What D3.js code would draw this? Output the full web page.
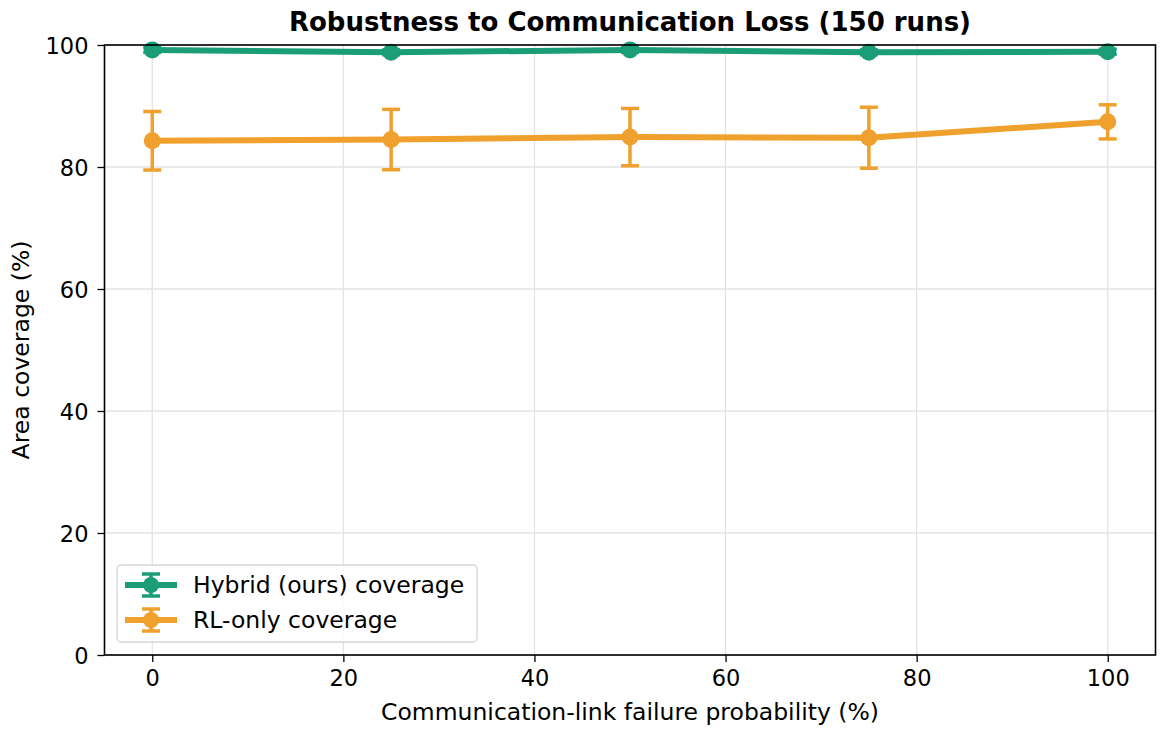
<!DOCTYPE html>
<html><head><meta charset="utf-8">
<script src="https://cdn.jsdelivr.net/npm/d3@7"></script>
<style>body{margin:0;background:#fff}svg{font-family:"DejaVu Sans",sans-serif}</style>
</head><body>
<svg id="c" width="1165" height="734"></svg>
<script>
const failureProb = [0, 25, 50, 75, 100];
const hybridMean = [99.2, 98.8, 99.2, 98.8, 98.9];
const hybridErr = [0.4, 0.4, 0.4, 0.4, 0.4];
const rlMean = [84.3, 84.5, 84.9, 84.8, 87.4];
const rlErr = [4.8, 4.95, 4.7, 5.0, 2.8];
const xTicks = [0, 20, 40, 60, 80, 100];
const yTicks = [0, 20, 40, 60, 80, 100];
const seriesNames = ["Hybrid (ours) coverage", "RL-only coverage"];
const colors = ["#1b9e77", "#f0a02c"];

const svg = d3.select("#c");
const m = {l:104.5, r:1155.5, t:45, b:655};
const x = d3.scaleLinear().domain([-5,105]).range([m.l, m.r]);
const y = d3.scaleLinear().domain([0,100]).range([m.b, m.t]);

// grid
const g = svg.append("g");
g.selectAll(".gx").data(xTicks).enter().append("line")
 .attr("x1",d=>x(d)).attr("x2",d=>x(d)).attr("y1",m.t).attr("y2",m.b)
 .attr("stroke","#e3e3e3").attr("stroke-width",1.3);
g.selectAll(".gy").data(yTicks).enter().append("line")
 .attr("y1",d=>y(d)).attr("y2",d=>y(d)).attr("x1",m.l).attr("x2",m.r)
 .attr("stroke","#e3e3e3").attr("stroke-width",1.3);

const series = [
 {name:seriesNames[0], mean:hybridMean, err:hybridErr, color:colors[0]},
 {name:seriesNames[1], mean:rlMean, err:rlErr, color:colors[1]}
];

const line = d3.line().x(d=>x(d.x)).y(d=>y(d.y));
series.forEach(s=>{
 const pts = failureProb.map((p,i)=>({x:p,y:s.mean[i],e:s.err[i]}));
 const sg = svg.append("g");
 pts.forEach(p=>{
   sg.append("line").attr("x1",x(p.x)).attr("x2",x(p.x)).attr("y1",y(p.y-p.e)).attr("y2",y(p.y+p.e))
     .attr("stroke",s.color).attr("stroke-width",3.5);
   [p.y-p.e,p.y+p.e].forEach(v=>sg.append("line").attr("x1",x(p.x)-9).attr("x2",x(p.x)+9)
     .attr("y1",y(v)).attr("y2",y(v)).attr("stroke",s.color).attr("stroke-width",3.5));
 });
 sg.append("path").datum(pts).attr("d",line).attr("fill","none").attr("stroke",s.color)
   .attr("stroke-width",6).attr("stroke-linejoin","round");
 sg.selectAll("circle").data(pts).enter().append("circle")
   .attr("cx",d=>x(d.x)).attr("cy",d=>y(d.y)).attr("r",8.5).attr("fill",s.color);
});

// axes
const xa = svg.append("g").attr("transform",`translate(0,${m.b})`)
 .call(d3.axisBottom(x).tickValues(xTicks).tickSize(7).tickPadding(8));
const ya = svg.append("g").attr("transform",`translate(${m.l},0)`)
 .call(d3.axisLeft(y).tickValues(yTicks).tickSize(7).tickPadding(9));
[xa,ya].forEach(a=>{a.select(".domain").remove();
 a.selectAll("text").attr("font-size",22.5).attr("fill","#000").attr("font-family","DejaVu Sans");
 a.selectAll("line").attr("stroke","#000").attr("stroke-width",1.3);});
ya.selectAll("text").attr("dy","0.36em");
svg.append("rect").attr("x",m.l).attr("y",m.t).attr("width",m.r-m.l).attr("height",m.b-m.t)
 .attr("fill","none").attr("stroke","#000").attr("stroke-width",1.6);

// labels
svg.append("text").attr("x",(m.l+m.r)/2).attr("y",31).attr("text-anchor","middle")
 .attr("font-size",26).attr("font-weight","bold").text("Robustness to Communication Loss (150 runs)");
svg.append("text").attr("x",(m.l+m.r)/2).attr("y",720).attr("text-anchor","middle")
 .attr("font-size",23.5).text("Communication-link failure probability (%)");
svg.append("text").attr("transform",`translate(29,${(m.t+m.b)/2}) rotate(-90)`).attr("text-anchor","middle")
 .attr("font-size",23.5).text("Area coverage (%)");

// legend
const lg = svg.append("g");
lg.append("rect").attr("x",117).attr("y",565).attr("width",360).attr("height",77).attr("rx",4)
 .attr("fill","#fff").attr("fill-opacity",0.8).attr("stroke","#d6d6d6").attr("stroke-width",1.3);
series.forEach((s,i)=>{
 const cy = 585 + i*35;
 lg.append("line").attr("x1",125).attr("x2",177).attr("y1",cy).attr("y2",cy).attr("stroke",s.color).attr("stroke-width",6);
 lg.append("line").attr("x1",151).attr("x2",151).attr("y1",cy-11).attr("y2",cy+11).attr("stroke",s.color).attr("stroke-width",3.5);
 [cy-11,cy+11].forEach(v=>lg.append("line").attr("x1",142).attr("x2",160).attr("y1",v).attr("y2",v).attr("stroke",s.color).attr("stroke-width",3.5));
 lg.append("circle").attr("cx",151).attr("cy",cy).attr("r",8).attr("fill",s.color);
 lg.append("text").attr("x",193).attr("y",cy+8).attr("font-size",23.5).text(s.name);
});
</script>
</body></html>
